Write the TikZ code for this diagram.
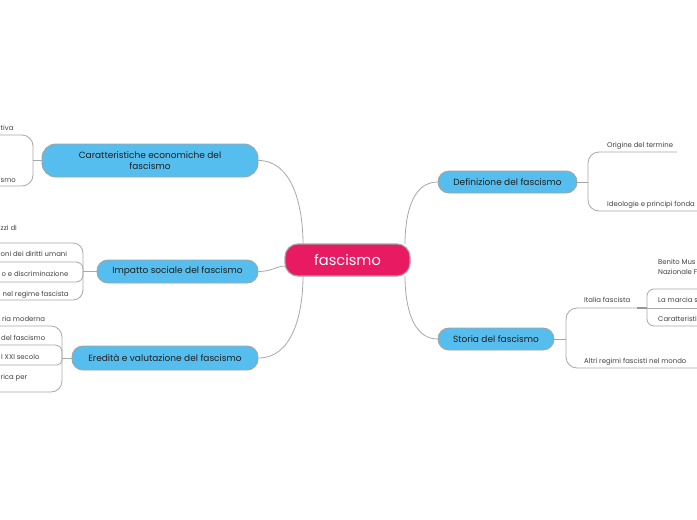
\documentclass[tikz,border=0pt]{standalone}
\usepackage{fontspec}
\setmainfont{Poppins}
\definecolor{blu}{HTML}{56BEEE}
\definecolor{pnk}{HTML}{E81A62}
\definecolor{ln}{HTML}{A8A8A8}
\definecolor{bd}{HTML}{A3A3A3}
\definecolor{tx}{HTML}{1E1E1E}
\begin{document}
\begin{tikzpicture}[x=1pt,y=-1pt,
  branch/.style={draw=bd, line width=0.9pt, fill=blu, rounded corners=11pt, text=tx,
    font=\fontsize{9}{11}\selectfont, align=center, inner sep=0pt},
  central/.style={draw=bd, line width=1.1pt, fill=pnk, rounded corners=13pt, text=white,
    font=\fontsize{14.6}{17}\selectfont, inner sep=0pt, minimum width=125pt, minimum height=32pt},
  leaf/.style={font=\fontsize{6.9}{10}\selectfont, text=tx!85, inner sep=0pt},
  lleaf/.style={leaf, anchor=base west},
  conn/.style={draw=ln, line width=0.8pt},
]
\useasboundingbox (0,0) rectangle (697,520);
\fill[white] (0,0) rectangle (697,520);
\clip (0,0) rectangle (697,520);

% attachment points on central
\coordinate (cTL) at (303,244);
\coordinate (cL)  at (286,266);
\coordinate (cBL) at (303,276);
\coordinate (cTR) at (405,244);
\coordinate (cBR) at (405,276);

% main branches
\node[branch, minimum width=216pt, minimum height=33pt, rounded corners=14pt] (car) at (150,160.5) {Caratteristiche economiche del\\fascismo};
\node[branch, minimum width=161pt, minimum height=23pt] (imp) at (177.5,271.5) {Impatto sociale del fascismo};
\node[branch, minimum width=186pt, minimum height=24pt] (ere) at (165,358) {Eredità e valutazione del fascismo};
\node[branch, minimum width=139pt, minimum height=22pt] (def) at (507.5,182) {Definizione del fascismo};
\node[branch, minimum width=116pt, minimum height=22pt] (sto) at (496,339) {Storia del fascismo};

\draw[conn] (car.east) .. controls (292,160.5) and (303,205) .. (cTL);
\draw[conn] (imp.east) .. controls (272,271.5) and (276,266) .. (cL);
\draw[conn] (ere.east) .. controls (292,358) and (303,315) .. (cBL);
\draw[conn] (def.west) .. controls (412,182) and (405,215) .. (cTR);
\draw[conn] (sto.west) .. controls (412,339) and (405,305) .. (cBR);

% central (on top of its connectors)
\node[central] (c) at (347.5,260) {fascismo};

% ---------- right: Definizione
\coordinate (dsp) at (588,182);
\node[leaf, anchor=base west] (d1) at (607,147.5) {Origine del termine};
\node[leaf, anchor=base west] (d2) at (607,206.5) {Ideologie e principi fonda};
\coordinate (d1e) at (677,152);
\coordinate (d2e) at (700,211);
\draw[conn] (def.east) -- (dsp);
\draw[conn, rounded corners=11pt] (dsp) |- (d1e);
\draw[conn, rounded corners=11pt] (dsp) |- (d2e);

% ---------- right: Storia
\coordinate (ssp) at (566,339);
\node[leaf, anchor=base west] (s1) at (584,302.5) {Italia fascista};
\node[leaf, anchor=base west] (s2) at (584,363.5) {Altri regimi fascisti nel mondo};
\coordinate (s1e) at (647,308);
\coordinate (s2e) at (700,368);
\draw[conn] (sto.east) -- (ssp);
\draw[conn, rounded corners=11pt] (ssp) |- (s1e);
\draw[conn, rounded corners=11pt] (ssp) |- (s2e);

% ---------- Italia fascista sub-branch
\node[leaf, anchor=base west, align=left] (i1) at (658,274) {Benito Mus\\[-0.6pt]Nazionale F};
\node[leaf, anchor=base west] (i2) at (658,302.5) {La marcia s};
\node[leaf, anchor=base west] (i3) at (658,321) {Caratteristi};
\coordinate (i1e) at (700,289);
\coordinate (i2e) at (700,308);
\coordinate (i3e) at (700,326);
\draw[conn, line width=1.3pt, draw=ln!90!black] (637,308) -- (s1e);
\draw[conn, rounded corners=7pt] (s1e) |- (i1e);
\draw[conn] (s1e) -- (i2e);
\draw[conn, rounded corners=7pt] (s1e) |- (i3e);

% ---------- left: Caratteristiche
\coordinate (csp) at (33,160.5);
\node[lleaf] (k1) at (0.5,130) {tiva};
\node[lleaf] (k2) at (0.5,182) {smo};
\coordinate (k1e) at (-5,135);
\coordinate (k2e) at (-5,186);
\draw[conn] (car.west) -- (csp);
\draw[conn, rounded corners=11pt] (csp) |- (k1e);
\draw[conn, rounded corners=11pt] (csp) |- (k2e);

% ---------- left: Impatto
\coordinate (isp) at (83,271.5);
\node[lleaf] (m1) at (0.5,230) {zzi di};
\node[lleaf] (m2) at (0.5,256.5) {oni dei diritti umani};
\node[lleaf] (m3) at (1.5,276.5) {o e discriminazione};
\node[lleaf] (m4) at (2.5,296) {nel regime fascista};
\coordinate (m1e) at (-5,243);
\coordinate (m2e) at (-5,262);
\coordinate (m3e) at (-5,282);
\coordinate (m4e) at (-5,300);
\draw[conn] (imp.west) -- (isp);
\draw[conn, rounded corners=10pt] (isp) |- (m1e);
\draw[conn, rounded corners=7pt] (isp) |- (m2e);
\draw[conn, rounded corners=7pt] (isp) |- (m3e);
\draw[conn, rounded corners=10pt] (isp) |- (m4e);

% ---------- left: Eredita
\coordinate (esp) at (62,358);
\node[lleaf] (e1) at (2,321) {ria moderna};
\node[lleaf] (e2) at (1,340) {del fascismo};
\node[lleaf] (e3) at (1,359.5) {l XXI secolo};
\node[lleaf] (e4) at (0.5,379.5) {rica per};
\coordinate (e1e) at (-5,326);
\coordinate (e2e) at (-5,345);
\coordinate (e3e) at (-5,365);
\coordinate (e4e) at (-5,392);
\draw[conn] (ere.west) -- (esp);
\draw[conn, rounded corners=11pt] (esp) |- (e1e);
\draw[conn, rounded corners=7pt] (esp) |- (e2e);
\draw[conn, rounded corners=5pt] (esp) |- (e3e);
\draw[conn, rounded corners=11pt] (esp) |- (e4e);
\end{tikzpicture}
\end{document}
